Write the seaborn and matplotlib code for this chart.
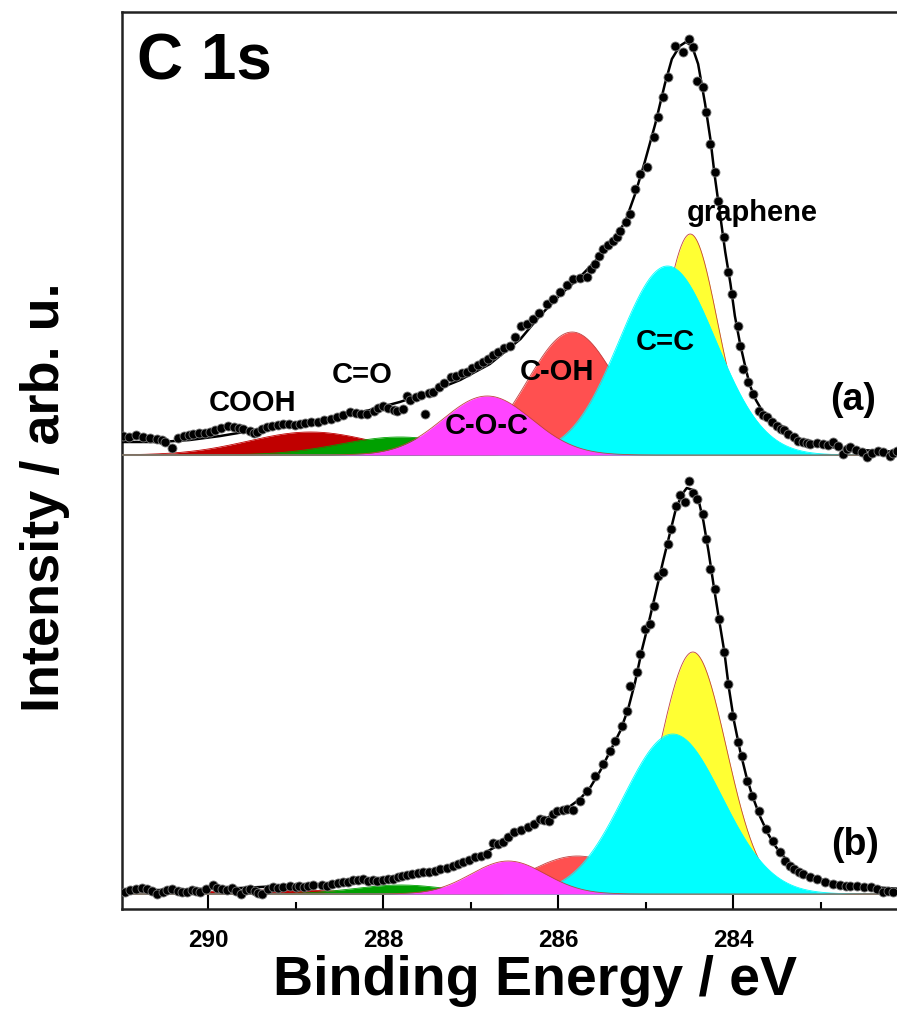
import numpy as np
import pandas as pd
import matplotlib
matplotlib.use("Agg")
import matplotlib.pyplot as plt
import seaborn as sns

# ---------------- data ----------------
# spectrum (a): binding energy (eV) and intensity (arb. u., above its own baseline)
be_a = [290.97, 290.90, 290.82, 290.74, 290.66, 290.58, 290.53, 290.49, 290.41, 290.34,
        290.28, 290.22, 290.17, 290.10, 290.04, 289.98, 289.92, 289.85, 289.77, 289.70,
        289.65, 289.60, 289.52, 289.48, 289.44, 289.38, 289.33, 289.27, 289.20, 289.14,
        289.08, 289.01, 288.95, 288.89, 288.82, 288.75, 288.68, 288.60, 288.53, 288.46,
        288.38, 288.31, 288.25, 288.18, 288.11, 288.06, 288.00, 287.94, 287.88, 287.84,
        287.77, 287.73, 287.69, 287.62, 287.57, 287.52, 287.48, 287.43, 287.36, 287.30,
        287.23, 287.17, 287.10, 287.04, 286.98, 286.92, 286.86, 286.80, 286.74, 286.69,
        286.62, 286.55, 286.49, 286.43, 286.36, 286.29, 286.22, 286.13, 286.06, 285.98,
        285.90, 285.83, 285.75, 285.67, 285.62, 285.58, 285.53, 285.49, 285.43, 285.37,
        285.33, 285.29, 285.23, 285.18, 285.12, 285.06, 284.98, 284.91, 284.86, 284.80,
        284.74, 284.66, 284.57, 284.51, 284.46, 284.41, 284.35, 284.31, 284.26, 284.21,
        284.17, 284.11, 284.06, 284.01, 283.95, 283.92, 283.89, 283.83, 283.77, 283.71,
        283.66, 283.61, 283.56, 283.50, 283.45, 283.42, 283.37, 283.31, 283.26, 283.20,
        283.16, 283.12, 283.04, 282.97, 282.92, 282.86, 282.80, 282.75, 282.70, 282.66,
        282.60, 282.53, 282.47, 282.41, 282.35, 282.29, 282.21, 282.17, 282.13]
int_a = [19, 18, 20, 18, 17, 16, 15, 13, 7, 17,
         19, 20, 21, 22, 22, 23, 25, 27, 29, 28,
         27, 26, 24, 22, 23, 26, 28, 29, 30, 31,
         31, 30, 31, 32, 33, 33, 35, 36, 38, 40,
         43, 42, 41, 41, 44, 47, 49, 47, 45, 44,
         46, 59, 55, 58, 60, 41, 62, 63, 68, 72,
         78, 79, 82, 83, 87, 90, 93, 96, 100, 103,
         107, 109, 118, 129, 131, 136, 142, 151, 156, 163,
         170, 176, 177, 178, 186, 191, 199, 206, 210, 214,
         218, 224, 233, 241, 266, 281, 288, 318, 338, 358,
         378, 409, 403, 416, 408, 374, 368, 343, 311, 283,
         254, 218, 183, 161, 129, 109, 86, 73, 61, 44,
         40, 38, 33, 29, 26, 25, 21, 18, 14, 13,
         12, 11, 12, 11, 10, 13, 9, 1, 6, 8,
         5, 3, -2, 2, 4, 3, -1, 2, 4]

fit_be_a = [290.99, 290.55, 290.21, 289.86, 289.52, 289.18, 288.83, 288.49, 288.15, 287.81,
            287.46, 287.12, 286.78, 286.43, 286.21, 285.98, 285.75, 285.52, 285.35, 285.23,
            285.12, 285.01, 284.89, 284.78, 284.70, 284.61, 284.54, 284.47, 284.40, 284.32,
            284.26, 284.21, 284.15, 284.09, 284.03, 283.98, 283.92, 283.86, 283.81, 283.74,
            283.66, 283.55, 283.44, 283.29, 283.12, 282.89, 282.55, 282.07]
fit_int_a = [13, 13, 15, 19, 24, 29, 33, 39, 45, 53,
             63, 75, 91, 116, 139, 160, 178, 199, 217, 234,
             261, 293, 331, 371, 396, 409, 413, 409, 391, 351,
             316, 279, 241, 203, 171, 139, 111, 88, 70, 55,
             43, 33, 25, 17, 12, 8, 5, 3]

# spectrum (b)
be_b = [290.95, 290.89, 290.83, 290.76, 290.70, 290.64, 290.58, 290.52, 290.47, 290.41,
        290.35, 290.30, 290.24, 290.18, 290.14, 290.09, 290.02, 289.95, 289.90, 289.84,
        289.78, 289.73, 289.68, 289.63, 289.57, 289.52, 289.46, 289.43, 289.38, 289.32,
        289.26, 289.20, 289.14, 289.06, 289.00, 288.96, 288.91, 288.86, 288.80, 288.70,
        288.64, 288.58, 288.52, 288.46, 288.40, 288.34, 288.29, 288.23, 288.17, 288.12,
        288.07, 288.00, 287.95, 287.89, 287.83, 287.78, 287.73, 287.67, 287.60, 287.54,
        287.48, 287.41, 287.35, 287.27, 287.20, 287.14, 287.09, 287.02, 286.95, 286.88,
        286.81, 286.74, 286.69, 286.63, 286.57, 286.51, 286.43, 286.35, 286.28, 286.21,
        286.16, 286.11, 286.06, 286.01, 285.95, 285.90, 285.83, 285.75, 285.67, 285.58,
        285.49, 285.41, 285.35, 285.27, 285.21, 285.18, 285.10, 285.06, 285.01, 284.95,
        284.91, 284.86, 284.80, 284.75, 284.71, 284.65, 284.61, 284.55, 284.51, 284.46,
        284.41, 284.34, 284.31, 284.26, 284.21, 284.16, 284.10, 284.06, 284.01, 283.95,
        283.90, 283.84, 283.78, 283.71, 283.63, 283.55, 283.46, 283.41, 283.35, 283.30,
        283.25, 283.20, 283.12, 283.04, 282.95, 282.86, 282.78, 282.71, 282.66, 282.58,
        282.51, 282.43, 282.36, 282.29, 282.23, 282.17]
int_b = [2, 4, 5, 6, 5, 3, 0, 2, 4, 5,
         3, 2, 2, 4, 3, 2, 5, 9, 6, 5,
         4, 6, 3, 0, 4, 5, 3, 1, 0, 5,
         7, 6, 7, 8, 7, 8, 7, 8, 9, 9,
         8, 10, 11, 12, 12, 14, 14, 15, 13, 14,
         13, 14, 15, 15, 17, 18, 19, 20, 21, 22,
         22, 23, 25, 26, 28, 30, 32, 34, 37, 38,
         40, 51, 50, 52, 57, 62, 64, 67, 70, 75,
         74, 73, 80, 83, 84, 85, 84, 93, 103, 118,
         130, 143, 153, 168, 183, 208, 222, 240, 265, 270,
         288, 318, 322, 350, 365, 388, 399, 392, 413, 401,
         395, 380, 355, 325, 305, 275, 242, 210, 178, 152,
         138, 113, 98, 83, 65, 53, 42, 33, 28, 25,
         22, 20, 17, 15, 12, 10, 9, 8, 8, 8,
         7, 7, 5, 2, 3, 2]

fit_be_b = [290.99, 290.55, 290.09, 289.63, 289.18, 288.72, 288.26, 287.81, 287.35, 287.12,
            286.95, 286.78, 286.66, 286.49, 286.32, 286.15, 285.98, 285.86, 285.75, 285.63,
            285.52, 285.41, 285.29, 285.20, 285.12, 285.04, 284.96, 284.88, 284.80, 284.73,
            284.66, 284.59, 284.53, 284.46, 284.39, 284.34, 284.28, 284.22, 284.16, 284.10,
            284.05, 283.99, 283.92, 283.85, 283.78, 283.69, 283.60, 283.51, 283.39, 283.26,
            283.10, 282.89, 282.66, 282.43, 282.07]
fit_int_b = [4, 4, 5, 6, 8, 10, 14, 18, 24, 30,
             36, 44, 50, 60, 68, 75, 83, 88, 95, 107,
             123, 142, 163, 185, 212, 245, 273, 303, 333, 358,
             383, 399, 406, 404, 392, 373, 342, 307, 274, 242,
             207, 173, 143, 118, 98, 77, 60, 47, 34, 24,
             17, 12, 9, 7, 5]

# fitted components (drawing order back -> front)
comp_names = ["graphene", "COOH", "C=O", "C-OH", "C=C", "C-O-C"]
comp_colors = ["#FFFF33", "#C00000", "#00A000", "#FF5050", "#00FFFF", "#FF44FF"]
center_a = [284.49, 288.83, 287.81, 285.84, 284.75, 286.81]
height_a = [221, 23, 18, 123, 189, 59]
fwhm_a = [0.73, 1.68, 1.60, 1.20, 1.30, 1.20]
center_b = [284.46, 289.20, 287.80, 285.78, 284.69, 286.57]
height_b = [242, 4, 9, 38, 160, 33]
fwhm_b = [0.90, 2.00, 1.25, 1.30, 1.33, 1.00]

offset_a = 439  # vertical offset of spectrum (a)

# ---------------- figure ----------------
sns.set_theme(style="ticks")
plt.rcParams["font.family"] = ["Liberation Sans", "DejaVu Sans"]
plt.rcParams["font.weight"] = "bold"
plt.rcParams["text.color"] = "black"
plt.rcParams["axes.labelcolor"] = "black"
plt.rcParams["xtick.color"] = "black"
plt.rcParams["ytick.color"] = "black"

W, H = 897, 1012
fig = plt.figure(figsize=(W / 100, H / 100), dpi=100)
left_px, right_px, top_px, bot_px = 121.5, 902, 13, 910
ax = fig.add_axes([left_px / W, 1 - bot_px / H, (right_px - left_px) / W, (bot_px - top_px) / H])

xgrid = np.linspace(291.2, 281.9, 1500)


def comp_curve(c, h, w):
    return h * np.exp(-4 * np.log(2) * (xgrid - c) ** 2 / w ** 2)


ax.axhline(offset_a, color="#BBBBBB", lw=1.5, zorder=1)

for centers, heights, widths, off in [(center_a, height_a, fwhm_a, offset_a),
                                       (center_b, height_b, fwhm_b, 0)]:
    for i, (c, h, w) in enumerate(zip(centers, heights, widths)):
        y = comp_curve(c, h, w)
        ax.fill_between(xgrid, off, off + y, color=comp_colors[i], lw=0, zorder=2 + i)
        edge = "#C04040" if comp_names[i] not in ("C=C", "C=O", "COOH") else comp_colors[i]
        ax.plot(xgrid, off + y, color=edge, lw=0.6, zorder=2 + i)

# fit envelopes
dfa_fit = pd.DataFrame({"be": fit_be_a, "I": np.array(fit_int_a) + offset_a})
dfb_fit = pd.DataFrame({"be": fit_be_b, "I": fit_int_b})
sns.lineplot(data=dfa_fit, x="be", y="I", sort=False, color="black", lw=1.8, ax=ax, zorder=10)
sns.lineplot(data=dfb_fit, x="be", y="I", sort=False, color="black", lw=1.8, ax=ax, zorder=10)

# experimental points
dfa = pd.DataFrame({"be": be_a, "I": np.array(int_a) + offset_a})
dfb = pd.DataFrame({"be": be_b, "I": int_b})
for d in (dfa, dfb):
    sns.scatterplot(data=d, x="be", y="I", color="black", s=42, edgecolor="#777777",
                    linewidth=0.6, ax=ax, zorder=11)

# labels for components (panel a)
lab_kw = dict(fontsize=21, fontweight="bold", ha="center", va="center", zorder=20)
ax.text(289.49, 492, "COOH", **lab_kw)
ax.text(288.24, 520, "C=O", **lab_kw)
ax.text(286.81, 469, "C-O-C", **lab_kw)
ax.text(286.01, 523, "C-OH", **lab_kw)
ax.text(284.77, 553, "C=C", **lab_kw)
ax.text(283.78, 682, "graphene", **lab_kw)
ax.text(282.63, 495, "(a)", fontsize=27, fontweight="bold", ha="center", va="center")
ax.text(282.61, 50, "(b)", fontsize=27, fontweight="bold", ha="center", va="center")
ax.text(0.02, 0.945, "C 1s", transform=ax.transAxes, fontsize=46, fontweight="bold",
        ha="left", va="center")

ax.set_xlim(290.99, 282.07)
ax.set_ylim(-15, 882)
ax.set_yticks([])
ax.set_xticks([290, 288, 286, 284])
ax.set_xticks([289, 287, 285, 283], minor=True)
ax.tick_params(axis="x", which="major", direction="in", length=10, width=1.5,
               labelsize=17.5, pad=14, color="black", labelcolor="black")
ax.tick_params(axis="x", which="minor", direction="in", length=5, width=1.5, color="black")
for lab in ax.get_xticklabels():
    lab.set_fontweight("bold")
for s in ax.spines.values():
    s.set_linewidth(1.8)
    s.set_color("#222222")
ax.spines["right"].set_visible(False)

ax.set_xlabel("Binding Energy / eV", fontsize=40, fontweight="bold")
ax.set_ylabel("Intensity / arb. u.", fontsize=39, fontweight="bold")
ax.xaxis.set_label_coords(0.53, -0.05)
ax.yaxis.set_label_coords(-0.066, 0.46)

fig.savefig("out.png", dpi=100)
